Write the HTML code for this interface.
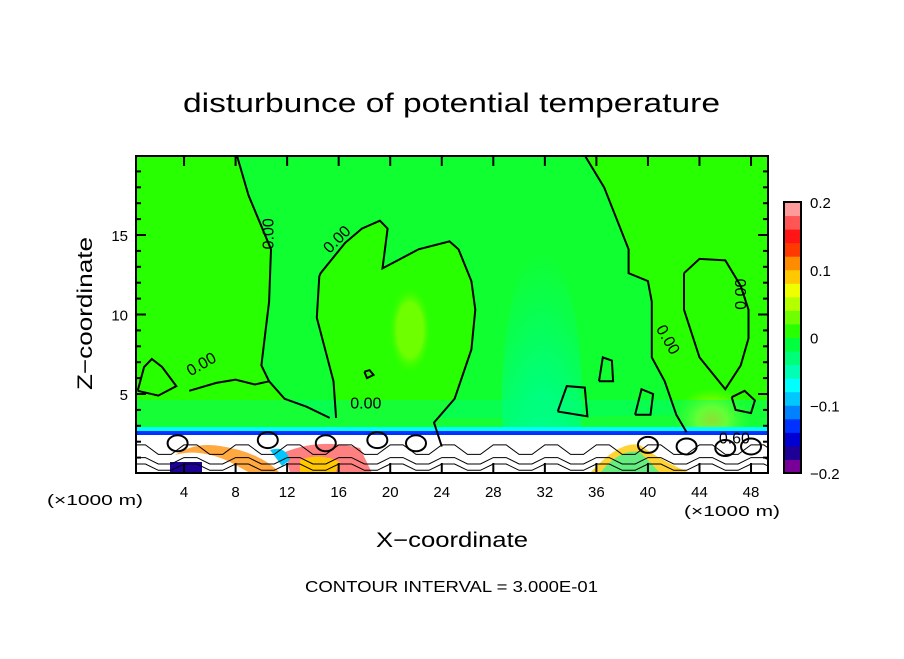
<!DOCTYPE html>
<html><head><meta charset="utf-8"><style>
body{margin:0;background:#fff;}
svg text{font-family:"Liberation Sans",sans-serif;}
</style></head><body>
<svg id="chart" width="904" height="654" viewBox="0 0 904 654" xmlns="http://www.w3.org/2000/svg">
<defs>
<clipPath id="pc"><rect x="136" y="156" width="632" height="317"/></clipPath>
<radialGradient id="col" cx="0.5" cy="1" r="1"><stop offset="0" stop-color="#00c8ff"/><stop offset="0.2" stop-color="#00ffb4"/><stop offset="0.55" stop-color="#00ff78"/><stop offset="1" stop-color="#00ff78" stop-opacity="0"/></radialGradient>
<radialGradient id="yel" cx="0.5" cy="0.5" r="0.5"><stop offset="0" stop-color="#ffc800"/><stop offset="0.4" stop-color="#b4ff00"/><stop offset="1" stop-color="#6eff00" stop-opacity="0"/></radialGradient>
<radialGradient id="lg" cx="0.5" cy="0.5" r="0.5"><stop offset="0" stop-color="#6eff00"/><stop offset="0.6" stop-color="#6eff00"/><stop offset="1" stop-color="#28ff00" stop-opacity="0"/></radialGradient>
</defs>
<text x="183" y="112" font-size="27" textLength="537" lengthAdjust="spacingAndGlyphs">disturbunce of potential temperature</text>
<g id="plot" clip-path="url(#pc)">
<rect x="136" y="156" width="632" height="317" fill="#28ff00"/>
<path id="negZone" fill="#10ff30"/>
<path id="posB" fill="#28ff00"/>
<path id="posD" fill="#28ff00"/>
<ellipse cx="542" cy="400" rx="40" ry="150" fill="url(#col)"/>
<ellipse cx="410" cy="330" rx="22" ry="45" fill="url(#lg)"/>
<ellipse cx="712" cy="420" rx="38" ry="32" fill="url(#yel)"/>
<rect x="136" y="400" width="632" height="28" fill="#00ff78" opacity="0.45"/>
<rect x="136" y="427" width="632" height="5" fill="#00ffff"/>
<rect x="136" y="431" width="632" height="4" fill="#0032ff"/>
<rect x="136" y="435" width="632" height="38" fill="#ffffff"/>
<path d="M175 455 Q200 448 230 462 L250 473 L280 473 Q260 452 220 446 Q195 442 175 455Z" fill="#ff8c00" opacity="0.75"/>
<path d="M285 452 Q320 438 360 448 L372 473 L290 473 Z" fill="#ff5555" opacity="0.75"/>
<path d="M300 460 Q320 452 340 462 L335 473 L300 473Z" fill="#ffc800"/>
<path d="M270 450 Q285 445 290 460 L282 466 Z" fill="#00c8ff"/>
<rect x="170" y="462" width="32" height="11" fill="#1e0096"/>
<path d="M590 473 Q620 440 640 445 Q660 460 690 473Z" fill="#ffc800" opacity="0.8"/>
<path d="M600 473 Q620 448 640 452 Q650 462 660 473Z" fill="#00ffb4" opacity="0.6"/>
<g id="contours" fill="none" stroke="#000" stroke-width="2"></g>
<g id="hatch" stroke="#000" stroke-width="1" fill="none"></g>
</g>
<rect x="136" y="156" width="632" height="317" fill="none" stroke="#000" stroke-width="2"/>
<g id="axes"></g>
<text x="376" y="547" font-size="21" textLength="152" lengthAdjust="spacingAndGlyphs">X−coordinate</text>
<text x="92" y="390" font-size="21" textLength="153" lengthAdjust="spacingAndGlyphs" transform="rotate(-90 92 390)">Z−coordinate</text>
<text x="47" y="505" font-size="15" textLength="96" lengthAdjust="spacingAndGlyphs">(×1000 m)</text>
<text x="684" y="516" font-size="15" textLength="96" lengthAdjust="spacingAndGlyphs">(×1000 m)</text>
<text x="305" y="592" font-size="16" textLength="293" lengthAdjust="spacingAndGlyphs">CONTOUR INTERVAL = 3.000E-01</text>
<g id="cbar"></g>
</svg>
<script>
const xTicks=[4,8,12,16,20,24,28,32,36,40,44,48];
const zTicks=[5,10,15];
const cbarColors=["#780096","#1e0096","#0000d2","#0032ff","#0082ff","#00c8ff","#00ffff","#00ffb4","#00ff78","#00ff3c","#28ff00","#6eff00","#b4ff00","#f0ff00","#ffc800","#ff8c00","#ff3a00","#ff1515","#ff5555","#ff9a9a"];
const cbarTicks=[-0.2,-0.1,0,0.1,0.2];
const cbarLabels=["−0.2","−0.1","0","0.1","0.2"];
const contourA=[[8.1,20],[9,17.5],[10.75,14.1],[10.6,10.8],[10.3,8.8],[10.0,6.8],[10.6,5.8],[11.8,4.7],[13.5,4.2],[15.3,3.5]];
const contourB=[[15.8,3.5],[15.6,5.8],[14.3,9.8],[14.5,12.4],[14.6,12.6],[16.5,14.5],[17.8,15.4],[19.2,15.9],[19.8,15.4],[19.4,12.9],[22.2,14.1],[24.6,14.6],[25.3,14.1],[26.3,12.1],[26.6,10.3],[26.3,7.8],[25.0,4.7],[23.4,3.2],[24.0,1.7]];
const contourC=[[35.1,20],[36.6,18],[38.5,14.1],[38.5,12.6],[40.0,12.1],[40.3,10.8],[40.3,7.3],[41.3,5.8],[42.2,3.7],[43,2.6]];
const contourD=[[42.8,12.6],[44.0,13.5],[46.0,13.4],[47.2,11.8],[47.8,10.3],[47.8,8.5],[47.2,6.8],[46.0,5.3],[44.0,7.3],[42.8,10.3],[42.8,12.6]];
const contourE=[[0.4,5.2],[0.9,6.7],[1.5,7.2],[2.3,6.7],[3.4,5.5],[2,4.9],[0.4,5.2]];
const contourE2=[[4.4,5.2],[6.5,5.7],[8,5.9],[9.5,5.6],[10.6,5.8]];
const contourF=[[46.5,4.8],[47.5,5.2],[48.3,4.6],[48,3.8],[46.8,4],[46.5,4.8]];
const contourG=[[33.0,3.9],[33.7,5.5],[35.1,5.4],[35.3,3.6],[33.0,3.9]];
const contourH=[[39.0,3.7],[39.5,5.3],[40.4,5.0],[40.2,3.7],[39.0,3.7]];
const contourI=[[36.2,5.8],[36.5,7.3],[37.2,7.1],[37.3,5.8],[36.2,5.8]];
const contourJ=[[18.0,6.4],[18.4,6.5],[18.7,6.2],[18.2,6.0],[18.0,6.4]];
const contours=[contourA,contourB,contourC,contourD,contourE,contourE2,contourF,contourG,contourH,contourI,contourJ];
const bottomLines=[[1.2,1.8],[0.6,1.0],[0.2,0.6]];
const labels=[[10.95,14.1,"0.00",-90],[15.3,13.8,"0.00",-45],[4.5,6.1,"0.00",-30],[16.9,4.1,"0.00",0],[40.6,9.1,"0.00",60],[47.6,10.3,"0.00",-90],[45.5,1.9,"0.60",0]];
const sx=x=>132.5+12.886*x, sz=z=>473.5-15.9*z;
const NS="http://www.w3.org/2000/svg";
const pts=c=>c.map(q=>sx(q[0]).toFixed(1)+' '+sz(q[1]).toFixed(1)).join(' L');
document.getElementById('negZone').setAttribute('d','M'+pts(contourA)+' L'+pts([[30,3.5],[42.2,3.7]])+' L'+pts(contourC.slice().reverse())+'Z');
document.getElementById('posB').setAttribute('d','M'+pts(contourB)+'Z');
document.getElementById('posD').setAttribute('d','M'+pts(contourD)+'Z');
const cg=document.getElementById('contours');
contours.forEach((c,i)=>{
 const p=document.createElementNS(NS,'path');
 p.setAttribute('d','M'+pts(c));
 
 
 cg.appendChild(p);
});
const hg=document.getElementById('hatch');
bottomLines.forEach((b,i)=>{
 let d='';
 for(let x=0;x<=50;x+=1){d+=(x?' L':'M')+sx(x).toFixed(1)+' '+sz(b[0]+(x%4<2?b[1]-b[0]:0)).toFixed(1);}
 const p=document.createElementNS(NS,'path');p.setAttribute('d',d);
 
 
 hg.appendChild(p);
});
[[3.5,1.9],[10.5,2.1],[15,1.9],[19,2.1],[22,1.9],[40,1.8],[43,1.7],[46,1.6],[48,1.7]].forEach((q,i)=>{
 const e=document.createElementNS(NS,'ellipse');
 e.setAttribute('cx',sx(q[0]));e.setAttribute('cy',sz(q[1]));e.setAttribute('rx',10);e.setAttribute('ry',8);
 e.setAttribute('stroke-width','2');
 
 
 hg.appendChild(e);
});
labels.forEach((l,i)=>{
 const t=document.createElementNS(NS,'text');
 t.setAttribute('x',sx(l[0]));t.setAttribute('y',sz(l[1]));t.setAttribute('font-size','16');
 t.setAttribute('transform',`rotate(${l[3]} ${sx(l[0])} ${sz(l[1])})`);
 t.textContent=l[2];
 
 
 document.getElementById('plot').appendChild(t);
});
const ax=document.getElementById('axes');
xTicks.forEach(v=>{
 const t=document.createElementNS(NS,'text');
 t.setAttribute('x',sx(v));t.setAttribute('y',497);t.setAttribute('font-size','15');t.setAttribute('text-anchor','middle');
 t.textContent=v;
 
 
 ax.appendChild(t);
 [[473,463],[156,166]].forEach(yy=>{
 const l=document.createElementNS(NS,'line');
 l.setAttribute('x1',sx(v));l.setAttribute('x2',sx(v));l.setAttribute('y1',yy[0]);l.setAttribute('y2',yy[1]);l.setAttribute('stroke','#000');l.setAttribute('stroke-width','2');
 
 
 ax.appendChild(l);});
});
for(let z=1;z<20;z++){
 const major=zTicks.includes(z);
 [[136,136+(major?10:5)],[768-(major?10:5),768]].forEach(xx=>{
 const l=document.createElementNS(NS,'line');
 l.setAttribute('x1',xx[0]);l.setAttribute('x2',xx[1]);l.setAttribute('y1',sz(z));l.setAttribute('y2',sz(z));l.setAttribute('stroke','#000');l.setAttribute('stroke-width','2');
 
 
 ax.appendChild(l);});
}
zTicks.forEach(v=>{
 const t=document.createElementNS(NS,'text');
 t.setAttribute('x',128);t.setAttribute('y',sz(v)+6);t.setAttribute('font-size','15');t.setAttribute('text-anchor','end');
 t.textContent=v;
 
 
 ax.appendChild(t);
});
const cb=document.getElementById('cbar');
const cy=v=>473-(v+0.2)/0.4*271;
cbarColors.forEach((c,i)=>{
 const v0=-0.2+i*0.02;
 const r=document.createElementNS(NS,'rect');
 r.setAttribute('x',784);r.setAttribute('y',cy(v0+0.02));r.setAttribute('width',17);r.setAttribute('height',cy(v0)-cy(v0+0.02)+0.5);r.setAttribute('fill',c);
 
 
 cb.appendChild(r);
});
const fr=document.createElementNS(NS,'rect');
fr.setAttribute('x',784);fr.setAttribute('y',202);fr.setAttribute('width',17);fr.setAttribute('height',271);fr.setAttribute('fill','none');fr.setAttribute('stroke','#000');fr.setAttribute('stroke-width','2');


cb.appendChild(fr);
cbarTicks.forEach((v,i)=>{
 const t=document.createElementNS(NS,'text');
 t.setAttribute('x',810);t.setAttribute('y',cy(v)+6);t.setAttribute('font-size','15');
 t.textContent=cbarLabels[i];
 
 
 cb.appendChild(t);
});
</script>
</body></html>
